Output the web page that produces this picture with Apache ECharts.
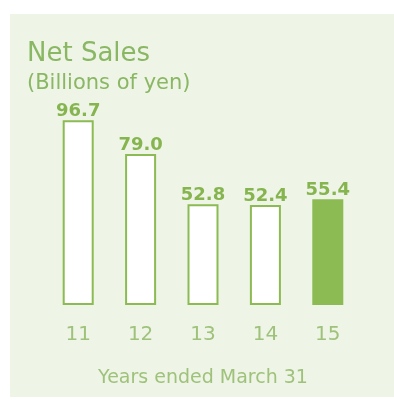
<!DOCTYPE html>
<html>
<head>
<meta charset="utf-8">
<script src="https://cdn.jsdelivr.net/npm/echarts@6/dist/echarts.min.js"></script>
<style>
  html, body { margin: 0; padding: 0; background: #ffffff; }
  #chart { width: 394px; height: 405px; }
</style>
</head>
<body>
<div id="chart"></div>
<script>
// Fiscal years (ended March 31) and net sales in billions of yen
const years = ['11', '12', '13', '14', '15'];
const netSales = [96.7, 79.0, 52.8, 52.4, 55.4];
const highlightIndex = 4; // latest year drawn solid

const green = '#8bbb52';
const textGreen = '#8ab763';
const lightGreen = '#9fc27b';
const font = '"DejaVu Sans", Verdana, sans-serif';

const chart = echarts.init(document.getElementById('chart'));

const barData = netSales.map((v, i) => ({
  value: v,
  itemStyle: {
    color: i === highlightIndex ? green : '#ffffff',
    borderColor: green,
    borderWidth: i === highlightIndex ? 0 : 2
  }
}));

chart.setOption({
  animation: false,
  graphic: [{
    type: 'rect',
    shape: { x: 10, y: 14, width: 384, height: 383 },
    style: { fill: '#eef4e6' },
    z: -10,
    silent: true
  }],
  title: [{
    text: 'Net Sales',
    left: 22,
    top: 36,
    textStyle: { fontFamily: font, fontSize: 26, fontWeight: 'normal', color: textGreen }
  }, {
    text: '(Billions of yen)',
    left: 22,
    top: 68,
    textStyle: { fontFamily: font, fontSize: 21, fontWeight: 'normal', color: textGreen }
  }],
  grid: { left: 47, right: 35, top: 114, bottom: 100 },
  xAxis: {
    type: 'category',
    data: years,
    axisLine: { show: false },
    axisTick: { show: false },
    axisLabel: { margin: 20, fontFamily: font, fontSize: 20, color: lightGreen },
    name: 'Years ended March 31',
    nameLocation: 'middle',
    nameGap: 64,
    nameTextStyle: { fontFamily: font, fontSize: 19, color: lightGreen }
  },
  yAxis: {
    type: 'value',
    min: 0,
    max: 100,
    show: false
  },
  series: [{
    type: 'bar',
    data: barData,
    barWidth: 31,
    label: {
      show: true,
      position: 'top',
      distance: 0,
      formatter: p => p.value.toFixed(1),
      fontFamily: font,
      fontSize: 18,
      fontWeight: 'bold',
      color: '#86b54f'
    }
  }]
});
</script>
</body>
</html>
